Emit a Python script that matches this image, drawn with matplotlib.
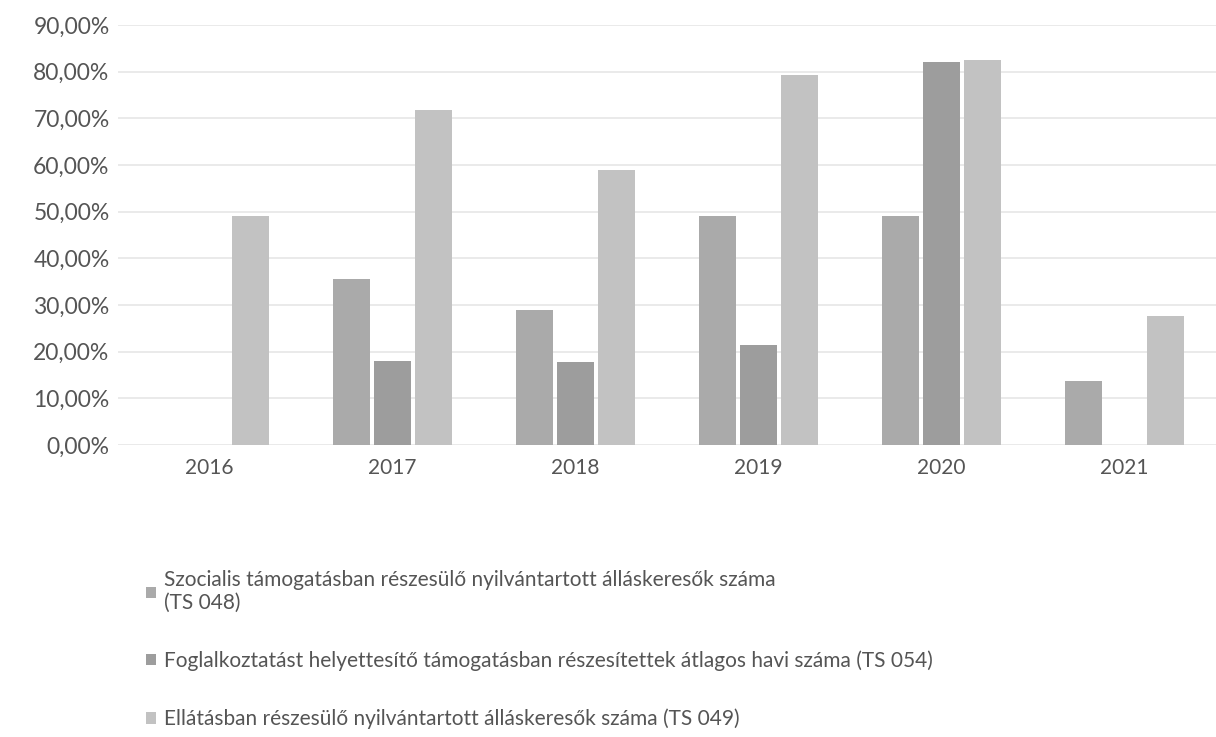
import numpy as np
import matplotlib.pyplot as plt
from matplotlib.ticker import FuncFormatter

plt.rcParams['font.family'] = ['Lato', 'DejaVu Sans']

# Données (en %)
evek = ['2016', '2017', '2018', '2019', '2020', '2021']
szocialis = [0, 35.5, 29.0, 49.0, 49.0, 13.8]
foglalkoztatas = [0, 18.0, 17.8, 21.5, 82.0, 0]
ellatas = [49.0, 71.8, 59.0, 79.3, 82.5, 27.7]

cimkek = [
    'Szocialis támogatásban részesülő nyilvántartott álláskeresők száma\n(TS 048)',
    'Foglalkoztatást helyettesítő támogatásban részesítettek átlagos havi száma (TS 054)',
    'Ellátásban részesülő nyilvántartott álláskeresők száma (TS 049)',
]
szinek = ['#aaaaaa', '#9d9d9d', '#c2c2c2']

fig = plt.figure(figsize=(12.16, 7.37), dpi=100)
ax = fig.add_axes([0.097, 0.396, 0.903, 0.570])

x = np.arange(len(evek))
w = 0.2
d = 0.225
b1 = ax.bar(x - d, szocialis, w, color=szinek[0])
b2 = ax.bar(x, foglalkoztatas, w, color=szinek[1])
b3 = ax.bar(x + d, ellatas, w, color=szinek[2])

ax.set_xlim(-0.5, len(evek) - 0.5)
ax.set_ylim(0, 90)
ax.set_yticks(np.arange(0, 91, 10))
ax.yaxis.set_major_formatter(FuncFormatter(lambda v, p: f'{v:.2f}%'.replace('.', ',')))
ax.set_xticks(x)
ax.set_xticklabels(evek)

ax.grid(axis='y', color='#e6e6e6', linewidth=1.2)
ax.set_axisbelow(True)
for s in ax.spines.values():
    s.set_visible(False)
ax.tick_params(length=0, labelcolor='#555555')
ax.tick_params(axis='x', pad=9, labelsize=15)
ax.tick_params(axis='y', pad=6, labelsize=16.5)

# Légende sous le graphique
fig.legend([b1, b2, b3], cimkek, loc='upper left', bbox_to_anchor=(0.105, 0.252),
           frameon=False, fontsize=15, labelcolor='#555555',
           handlelength=0.45, handleheight=0.45, handletextpad=0.4,
           labelspacing=1.8)

fig.savefig('out.png', dpi=100)
